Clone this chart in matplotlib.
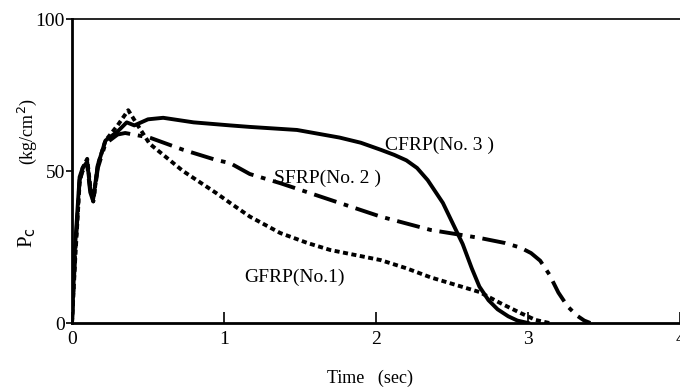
import matplotlib.pyplot as plt

# CFRP(No. 3) - solid
t_cfrp = [0, 0.02, 0.05, 0.07, 0.10, 0.12, 0.14, 0.17, 0.22, 0.30, 0.36, 0.41, 0.50, 0.60, 0.80,
          1.04, 1.17, 1.48, 1.76, 1.90, 2.03, 2.12, 2.20, 2.27, 2.34, 2.44, 2.57, 2.63, 2.68,
          2.74, 2.80, 2.87, 2.93, 3.00]
p_cfrp = [0, 25, 48, 51, 53, 44, 41, 52, 60, 63, 66, 65, 67, 67.5, 66,
          65, 64.5, 63.5, 61, 59.3, 57, 55.3, 53.5, 51, 47, 39.5, 26, 18, 12,
          7.5, 4.5, 2.2, 0.8, 0]

# SFRP(No. 2) - dash-dot
t_sfrp = [0, 0.02, 0.05, 0.07, 0.10, 0.12, 0.14, 0.17, 0.22, 0.30, 0.35, 0.51, 0.73, 0.95,
          1.04, 1.17, 1.37, 1.70, 2.03, 2.36, 2.68, 2.85, 2.95, 3.02, 3.08, 3.14, 3.20, 3.26,
          3.32, 3.37, 3.41]
p_sfrp = [0, 22, 47, 50, 52, 43, 40, 51, 59, 62, 62.5, 61, 57, 53.6,
          52.6, 49, 46, 40.5, 35, 30.6, 28, 26.3, 24.8, 23, 20.5, 16, 10, 5.5,
          2.5, 0.8, 0]

# GFRP(No.1) - dashed
t_gfrp = [0, 0.02, 0.05, 0.07, 0.10, 0.12, 0.14, 0.17, 0.22, 0.30, 0.37, 0.42, 0.51, 0.73, 0.95,
          1.04, 1.17, 1.37, 1.55, 1.70, 1.87, 2.03, 2.20, 2.36, 2.52, 2.68, 2.82, 2.95, 3.05, 3.14]
p_gfrp = [0, 20, 46, 51, 54, 45, 40, 52, 60, 65, 70, 66, 59, 50, 42.7,
          39.5, 35, 29.6, 26.3, 24, 22.3, 20.7, 18, 15, 12.6, 10.2, 6.5, 3.3, 1, 0]

x_ticks = [0, 1, 2, 3, 4]
y_ticks = [0, 50, 100]

plt.rcParams['font.family'] = ['Liberation Serif', 'DejaVu Serif']

fig = plt.figure(figsize=(6.8, 3.92), dpi=100)
ax = fig.add_axes([72/680, 69/392, 1 - 72/680, 304/392])

ax.plot(t_cfrp, p_cfrp, color='k', linewidth=2.8, linestyle='-')
ax.plot(t_sfrp, p_sfrp, color='k', linewidth=2.8, linestyle=(0, (6, 2, 1.2, 2)))
ax.plot(t_gfrp, p_gfrp, color='k', linewidth=2.8, linestyle=(0, (1.3, 0.9)))

ax.set_xlim(0, 3.99)
ax.set_ylim(0, 100)
ax.set_xticks(x_ticks)
ax.set_yticks(y_ticks)
ax.tick_params(axis='x', direction='in', length=8, width=1.2, labelsize=14, pad=6)
ax.tick_params(axis='y', direction='out', length=4, width=1.2, labelsize=14, pad=1)
ax.spines['right'].set_visible(False)
ax.spines['left'].set_linewidth(2)
ax.spines['bottom'].set_linewidth(2)
ax.spines['top'].set_linewidth(1.2)

ax.text(2.06, 57, 'CFRP(No. 3 )', fontsize=14)
ax.text(1.33, 46, 'SFRP(No. 2 )', fontsize=14)
ax.text(1.13, 13.5, 'GFRP(No.1)', fontsize=14)

fig.text(370/680, 1 - 378/392, 'Time   (sec)', fontsize=13, ha='center', va='center')
fig.text(27/680, 1 - 238/392, 'P$_\\mathrm{c}$', fontsize=15, rotation=90, ha='center', va='center')
fig.text(27/680, 1 - 132/392, '(kg/cm$^2$)', fontsize=13, rotation=90, ha='center', va='center')

plt.savefig('out.png', dpi=100)
